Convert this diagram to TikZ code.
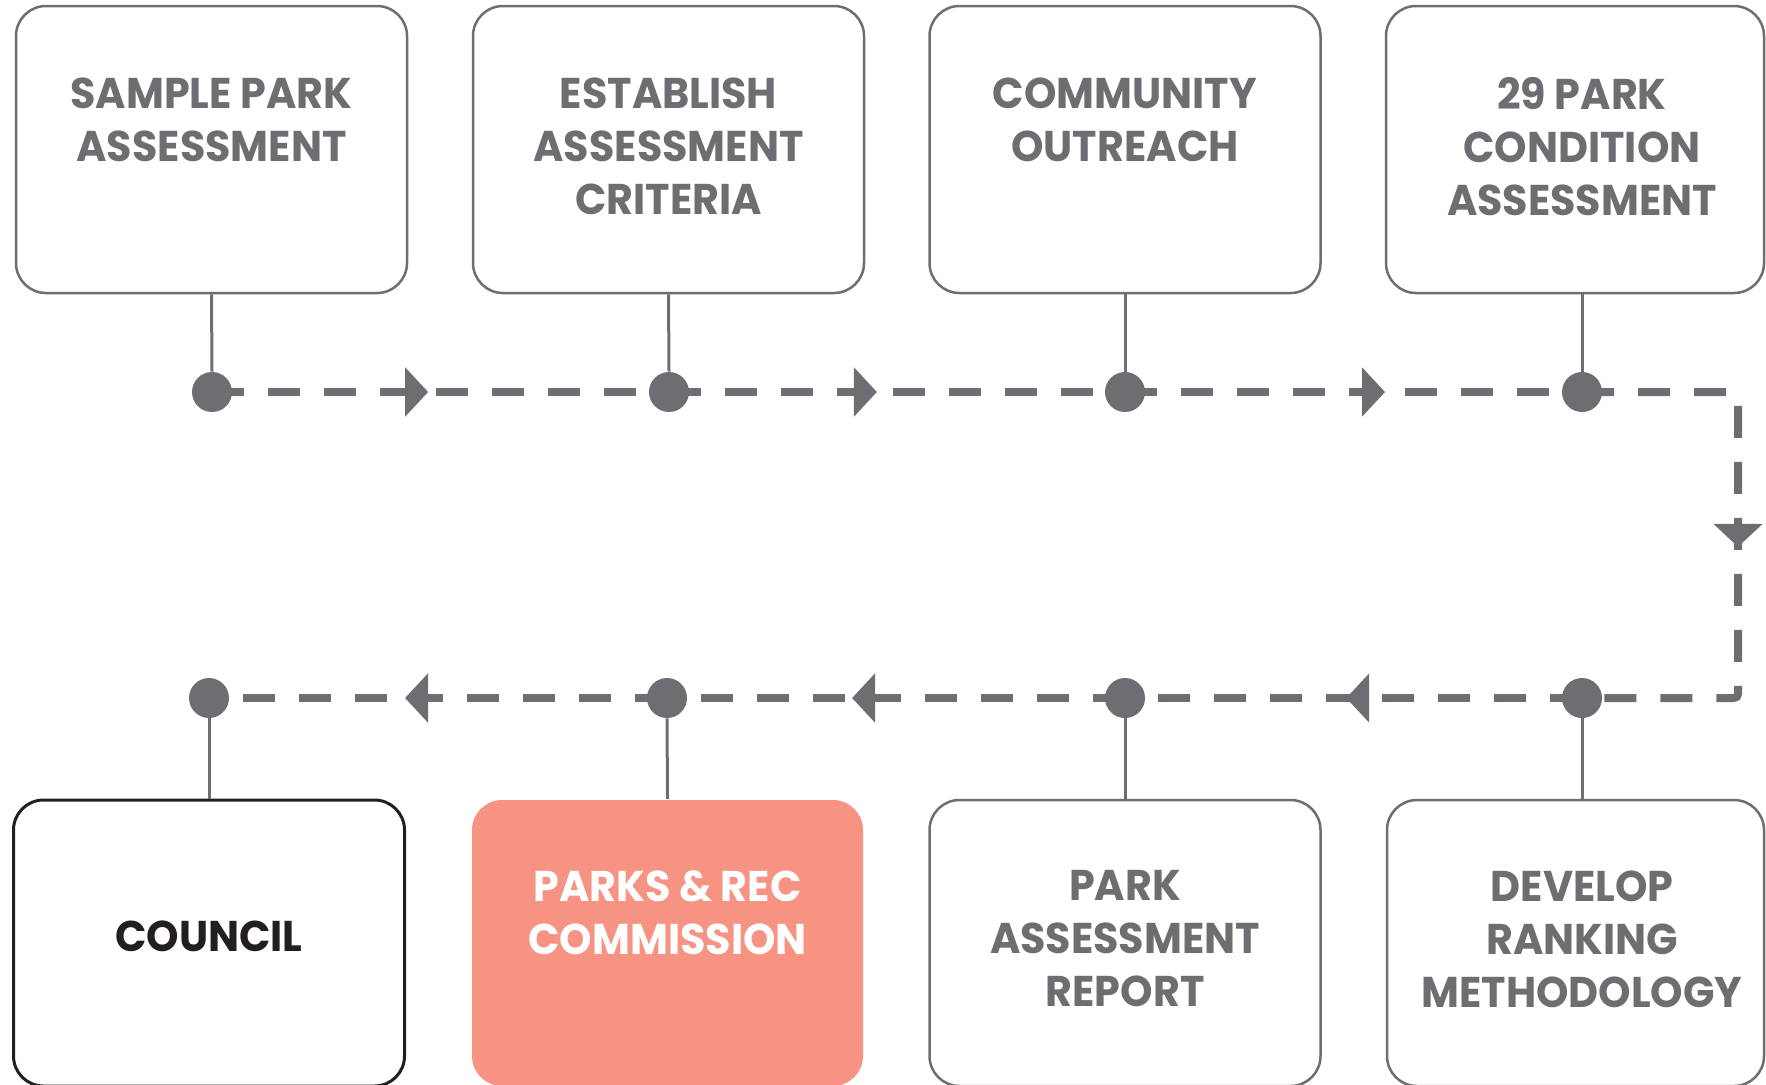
\documentclass[tikz,border=0pt]{standalone}
\usepackage{fontspec}
\setmainfont{Poppins}[FakeStretch=0.96]
\usetikzlibrary{arrows.meta,decorations.markings}
\definecolor{gr}{HTML}{6D6E71}
\definecolor{salmon}{HTML}{F69383}
\definecolor{blk}{HTML}{231F20}
\begin{document}
\begin{tikzpicture}[x=0.5pt,y=-0.5pt,
  box/.style={draw=gr, line width=1.25pt, rounded corners=15pt, minimum width=195.5pt, minimum height=143.5pt, inner sep=0pt},
  bbox/.style={box, minimum height=143pt},
  dot/.style={circle, fill=gr, minimum size=20pt, inner sep=0pt},
  stem/.style={draw=gr, line width=1.5pt},
  dline/.style={draw=gr, line width=4pt, dash pattern=on 16pt off 12pt},
  txt/.style={font=\bfseries\fontsize{21.5pt}{26.5pt}\selectfont, text=gr, align=center, inner sep=0pt, anchor=north},
  am/.style={postaction={decorate}, decoration={markings, mark=at position #1 with {\arrow{Triangle[length=11.5pt,width=24pt]}}}}]
\useasboundingbox (0,0) rectangle (1766,1084);
% path points
\coordinate (p1) at (212,392);
\coordinate (p2) at (669,392);
\coordinate (p3) at (1125,392);
\coordinate (p4) at (1582,392);
\coordinate (c1) at (1738,392);
\coordinate (c2) at (1738,698);
\coordinate (q4) at (1582,698);
\coordinate (q3) at (1125,698);
\coordinate (q2) at (667,698);
\coordinate (q1) at (209,698);
% dashed flow
\draw[dline, am=0.473] (p1) -- (p2);
\draw[dline, am=0.456] (p2) -- (p3);
\draw[dline, am=0.569] (p3) -- (p4);
\draw[dline, rounded corners=2pt, am=0.503] (p4) -- (c1) -- (c2) -- (q4);
\draw[dline, am=0.516] (q4) -- (q3);
\draw[dline, am=0.596] (q3) -- (q2);
\draw[dline, am=0.572] (q2) -- (q1);
% top boxes
\node[box] (b1) at (211.5,149.5) {};
\node[box] (b2) at (668.5,149.5) {};
\node[box] (b3) at (1125,149.5) {};
\node[box, minimum width=189pt] (b4) at (1575,149.5) {};
% bottom boxes
\node[bbox, draw=blk, line width=1.5pt] (k1) at (209,943) {};
\node[bbox, draw=none, fill=salmon] (k2) at (667.5,943) {};
\node[bbox] (k3) at (1125,943) {};
\node[bbox, minimum width=188.5pt] (k4) at (1575.5,943) {};
% texts
\node[txt] (t1) at (211.5,77) {SAMPLE PARK\\ASSESSMENT};
\node[txt] (t2) at (668.5,77) {ESTABLISH\\ASSESSMENT\\CRITERIA};
\node[txt] (t3) at (1125,77) {COMMUNITY\\OUTREACH};
\node[txt] (t4) at (1582,77) {29 PARK\\CONDITION\\ASSESSMENT};
\node[txt, text=blk] (u1) at (209,920) {COUNCIL};
\node[txt, text=white] (u2) at (667.5,870) {PARKS \& REC\\COMMISSION};
\node[txt] (u3) at (1125,870) {PARK\\ASSESSMENT\\REPORT};
\node[txt] (u4) at (1582,870) {DEVELOP\\RANKING\\METHODOLOGY};
% dots
\node[dot] (d1) at (p1) {};
\node[dot] (d2) at (p2) {};
\node[dot] (d3) at (p3) {};
\node[dot] (d4) at (p4) {};
\node[dot] (e4) at (q4) {};
\node[dot] (e3) at (q3) {};
\node[dot] (e2) at (q2) {};
\node[dot] (e1) at (q1) {};
% stems
\draw[stem] (b1.south) -- (d1.north);
\draw[stem] (b2.south) -- (d2.north);
\draw[stem] (b3.south) -- (d3.north);
\draw[stem] (b4.south -| d4) -- (d4.north);
\draw[stem] (e1.south) -- (k1.north);
\draw[stem] (e2.south) -- (k2.north);
\draw[stem] (e3.south) -- (k3.north);
\draw[stem] (e4.south) -- (k4.north -| e4);
\end{tikzpicture}
\end{document}
